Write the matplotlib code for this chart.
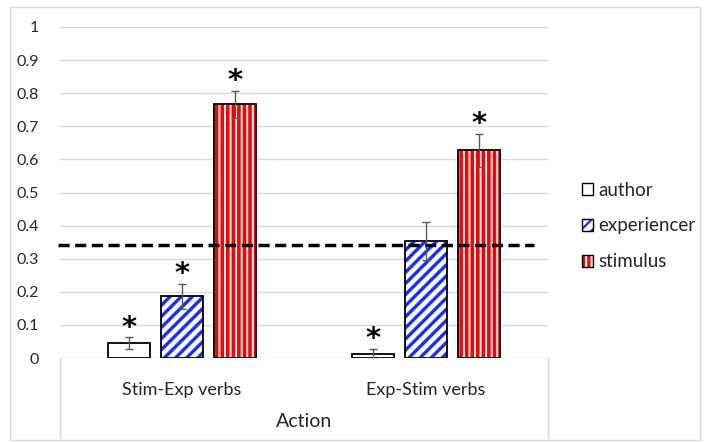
import matplotlib
matplotlib.use("Agg")
import matplotlib.pyplot as plt
from matplotlib.patches import Rectangle, Patch
from matplotlib.lines import Line2D
from matplotlib.legend_handler import HandlerTuple
import numpy as np

plt.rcParams['font.family'] = ['Lato', 'DejaVu Sans']
plt.rcParams['hatch.linewidth'] = 1.6

categories = ["Stim-Exp verbs", "Exp-Stim verbs"]
series = ["author", "experiencer", "stimulus"]
author = [0.045, 0.013]
experiencer = [0.187, 0.354]
stimulus = [0.767, 0.627]
author_err = [0.017, 0.015]
experiencer_err = [0.038, 0.058]
stimulus_err = [0.041, 0.050]
significant = {
    "author": [True, True],
    "experiencer": [True, False],
    "stimulus": [True, True],
}
chance_level = 0.34
x_title = "Action"
yticks = [0, 0.1, 0.2, 0.3, 0.4, 0.5, 0.6, 0.7, 0.8, 0.9, 1]
ytick_labels = ["0", "0.1", "0.2", "0.3", "0.4", "0.5", "0.6", "0.7", "0.8", "0.9", "1"]

W, H = 704, 442
fig = plt.figure(figsize=(W / 100, H / 100), dpi=100)
fig.patch.set_facecolor("white")

# outer light frame
fig.add_artist(Rectangle((10 / W, 1 - 440 / H), 690 / W, 433 / H, transform=fig.transFigure,
                         fill=False, edgecolor="#d9d9d9", linewidth=1.0))

ax = fig.add_axes([60 / W, 1 - 358 / H, 488 / W, 331 / H])
ax.set_xlim(-0.5, 1.5)
ax.set_ylim(0, 1)
for s in ax.spines.values():
    s.set_visible(False)
ax.set_yticks(yticks)
ax.set_yticklabels(ytick_labels)
ax.yaxis.grid(True, color="#d9d9d9", linewidth=1.0)
ax.set_axisbelow(True)
ax.tick_params(axis="y", length=0, pad=15, labelsize=11.5, labelcolor="#262626")
ax.tick_params(axis="x", length=0, pad=17, labelsize=13, labelcolor="#262626")
ax.set_xticks(np.arange(len(categories)))
ax.set_xticklabels(categories)
ax.set_xlabel(x_title, fontsize=14, color="#262626", labelpad=11)

x = np.arange(len(categories))
off = 0.219
bw = 0.172

styles = [
    dict(face="white", hcol="black", hatch=None, hlw=None),
    dict(face="white", hcol="#1a2cff", hatch="///", hlw=2.4),
    dict(face="#ff0000", hcol="white", hatch="|||", hlw=1.4),
]
values = [author, experiencer, stimulus]
errs = [author_err, experiencer_err, stimulus_err]

for i, (vals, err, st, name) in enumerate(zip(values, errs, styles, series)):
    xs = x + (i - 1) * off
    if st["hatch"]:
        bars = ax.bar(xs, vals, bw, color=st["face"], edgecolor=st["hcol"], hatch=st["hatch"],
                      linewidth=0, zorder=2)
        for b in bars:
            if hasattr(b, "set_hatch_linewidth"):
                b.set_hatch_linewidth(st["hlw"])
    else:
        ax.bar(xs, vals, bw, color=st["face"], linewidth=0, zorder=2)
    ax.bar(xs, vals, bw, fill=False, edgecolor="black", linewidth=1.3, zorder=3)
    ax.errorbar(xs, vals, yerr=err, fmt="none", ecolor="#595959", elinewidth=1.0,
                capsize=3, capthick=1.0, zorder=4)
    for xi, v, e, sig in zip(xs, vals, err, significant[name]):
        if sig:
            ax.text(xi, v + e + 0.03, "*", ha="center", va="center", fontsize=21,
                    fontweight="bold", family="DejaVu Sans", color="black", zorder=5)

# chance level dashed line
ax.plot([-0.508, 1.443], [chance_level, chance_level], color="black", linewidth=2.5,
        linestyle=(0, (3.2, 1.6)), zorder=6, clip_on=False)

# category box lines
for px in (60, 548):
    fig.add_artist(Line2D([px / W, px / W], [1 - 358 / H, 1 - 438 / H], transform=fig.transFigure,
                          color="#d9d9d9", linewidth=1.0))

# legend
handles = []
for st, name in zip(styles, series):
    inner = Patch(facecolor=st["face"], edgecolor=st["hcol"] if st["hatch"] else "none",
                  hatch=st["hatch"], linewidth=0)
    if st["hatch"] and hasattr(inner, "set_hatch_linewidth"):
        inner.set_hatch_linewidth(st["hlw"])
    outer = Patch(facecolor="none", edgecolor="black", linewidth=1.0)
    handles.append((inner, outer))
leg = fig.legend(handles=handles, labels=series, loc="center left",
                 bbox_to_anchor=(574 / W, 1 - 226 / H),
                 handler_map={tuple: HandlerTuple(ndivide=1)},
                 frameon=False, fontsize=13.5, handlelength=0.6, handleheight=0.6,
                 handletextpad=0.3, labelspacing=1.0, borderaxespad=0)
for t in leg.get_texts():
    t.set_color("#262626")

fig.savefig("out.png", dpi=100, facecolor="white")
